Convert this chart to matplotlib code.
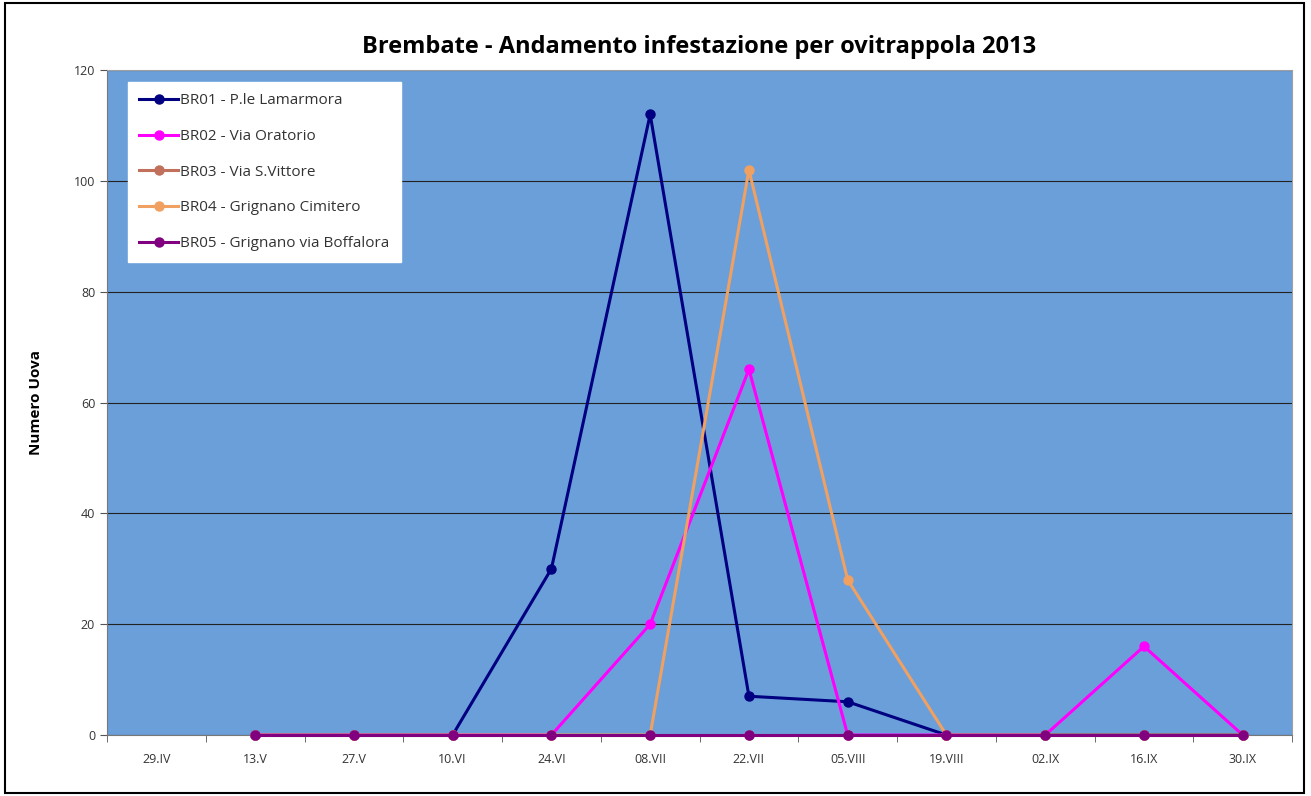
import matplotlib
matplotlib.use("Agg")
import matplotlib.pyplot as plt
import numpy as np

# dates of sampling
dates = ["29.IV", "13.V", "27.V", "10.VI", "24.VI", "08.VII", "22.VII",
         "05.VIII", "19.VIII", "02.IX", "16.IX", "30.IX"]
nan = np.nan
br01 = [nan, 0, 0, 0, 30, 112, 7, 6, 0, 0, 0, 0]
br02 = [nan, 0, 0, 0, 0, 20, 66, 0, 0, 0, 16, 0]
br03 = [nan, 0, 0, 0, 0, 0, 0, 0, 0, 0, 0, 0]
br04 = [nan, 0, 0, 0, 0, 0, 102, 28, 0, 0, 0, 0]
br05 = [nan, 0, 0, 0, 0, 0, 0, 0, 0, 0, 0, 0]

names = ["BR01 - P.le Lamarmora", "BR02 - Via Oratorio", "BR03 - Via S.Vittore",
         "BR04 - Grignano Cimitero", "BR05 - Grignano via Boffalora"]
colors = ["#000080", "#FF00FF", "#C0705B", "#F0A060", "#800080"]
series = [br01, br02, br03, br04, br05]

plt.rcParams['font.family'] = ['Open Sans', 'DejaVu Sans']

fig = plt.figure(figsize=(13.11, 7.96), dpi=100)
ax = fig.add_axes([0.0816, 0.0766, 0.9040, 0.8354])
ax.set_facecolor("#6B9FDA")

x = np.arange(len(dates))
for i in range(len(series)):
    ax.plot(x, series[i], color=colors[i], lw=2.2, marker="o", ms=6.5,
            label=names[i], zorder=3 + i, clip_on=False)

ax.set_xlim(-0.5, len(dates) - 0.5)
ax.set_ylim(0, 120)
ax.set_yticks(np.arange(0, 121, 20))
ax.set_xticks(x)
ax.set_xticklabels(dates, fontsize=9, color="#333333")
ax.set_xticks(np.arange(-0.5, len(dates), 1), minor=True)
ax.tick_params(axis="x", which="major", length=0, pad=13)
ax.tick_params(axis="x", which="minor", length=5, direction="out", color="#555555")
ax.tick_params(axis="y", length=5, direction="out", labelsize=9, labelcolor="#333333", color="#555555")
ax.yaxis.grid(True, color="#222222", lw=0.8)
ax.set_axisbelow(True)
ax.spines["top"].set_color("#A0A0A0")
ax.spines["right"].set_color("#A0A0A0")
ax.spines["left"].set_color("#777777")
ax.spines["bottom"].set_color("#777777")
for s in ax.spines.values():
    s.set_zorder(2.6)

ax.set_ylabel("Numero Uova", fontsize=11, fontweight="bold", labelpad=22)
ax.set_title("Brembate - Andamento infestazione per ovitrappola 2013",
             fontsize=17, fontweight="bold", pad=12)

leg = ax.legend(loc="upper left", bbox_to_anchor=(0.0177, 0.982), borderaxespad=0,
                fontsize=11, frameon=True, fancybox=False, framealpha=1, edgecolor="white",
                handlelength=2.5, labelspacing=1.35, borderpad=0.75, handletextpad=0.15)
leg.get_frame().set_facecolor("white")
for t in leg.get_texts():
    t.set_color("#333333")

fig.patches.append(plt.Rectangle((0.004, 0.004), 0.991, 0.992, transform=fig.transFigure,
                                 fill=False, edgecolor="black", lw=1.5))

fig.savefig("out.png", dpi=100)
